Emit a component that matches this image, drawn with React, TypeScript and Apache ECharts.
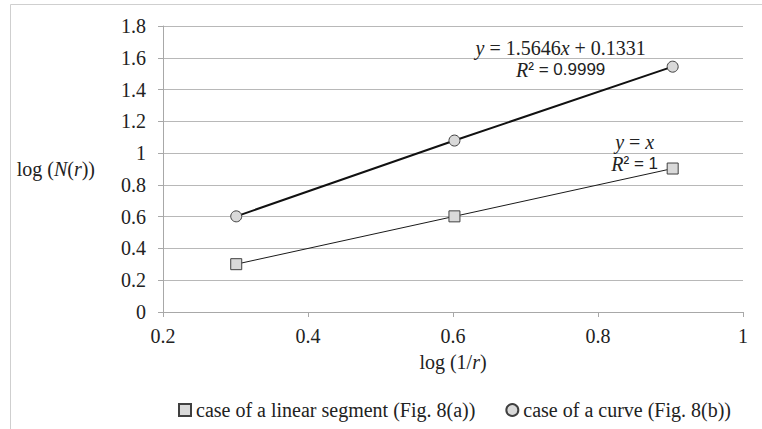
import React, { useEffect, useRef } from "react";
import * as echarts from "echarts";

const xValues = [0.301, 0.602, 0.903];
const linearY = [0.301, 0.602, 0.903];
const curveY = [0.602, 1.079, 1.544];
const seriesNames = [
  "case of a linear segment (Fig. 8(a))",
  "case of a curve (Fig. 8(b))",
];
const xTicks = { min: 0.2, max: 1, interval: 0.2 };
const yTicks = { min: 0, max: 1.8, interval: 0.2 };
const curveEq = { slope: "1.5646", intercept: "0.1331", r2: "0.9999" };
const linearEq = { r2: "1" };

const SERIF = "Liberation Serif";
const SANS = "Liberation Sans";
const TXT = "#222222";
const FS = 20;

export default function App() {
  const ref = useRef<HTMLDivElement>(null);
  useEffect(() => {
    if (!ref.current) return;
    const chart = echarts.init(ref.current, undefined, { renderer: "svg" });
    const richEq = {
      i: { fontFamily: SERIF, fontStyle: "italic", fontSize: FS, color: TXT },
      n: { fontFamily: SERIF, fontSize: FS, color: TXT },
      s: { fontFamily: SANS, fontSize: 17, color: TXT },
    };
    const richName = {
      n: { fontFamily: SERIF, fontSize: FS, color: TXT },
      i: { fontFamily: SERIF, fontSize: FS, fontStyle: "italic", color: TXT },
    };
    const lastIdx = xValues.length - 1;
    chart.setOption({
      animation: false,
      backgroundColor: "#ffffff",
      textStyle: { fontFamily: SERIF, fontSize: FS },
      graphic: [
        {
          type: "rect",
          shape: { x: 10.5, y: 4.5, width: 800, height: 500 },
          style: { fill: "none", stroke: "#cfcfcf", lineWidth: 1 },
          silent: true,
          z: -10,
        },
      ],
      grid: { left: 163, top: 26, right: 19, bottom: 117, containLabel: false },
      legend: {
        left: 178,
        top: 400,
        padding: 0,
        itemWidth: 12,
        itemHeight: 12,
        itemGap: 30,
        textStyle: { fontFamily: SERIF, fontSize: FS, color: TXT },
        data: [
          { name: seriesNames[0], icon: "rect" },
          { name: seriesNames[1], icon: "circle" },
        ],
      },
      xAxis: {
        type: "value",
        min: xTicks.min,
        max: xTicks.max,
        interval: xTicks.interval,
        name: "{n|log (1/}{i|r}{n|)}",
        nameLocation: "middle",
        nameGap: 40,
        nameTextStyle: { fontFamily: SERIF, fontSize: FS, rich: richName },
        axisLine: { show: true, lineStyle: { color: "#a8a8a8", width: 1 } },
        axisTick: { show: true, length: 5, lineStyle: { color: "#a8a8a8" } },
        splitLine: { show: false },
        axisLabel: { fontFamily: SERIF, fontSize: FS, color: TXT, margin: 14 },
      },
      yAxis: {
        type: "value",
        min: yTicks.min,
        max: yTicks.max,
        interval: yTicks.interval,
        name: "{n|log (}{i|N}{n|(}{i|r}{n|))}",
        nameLocation: "middle",
        nameRotate: 0,
        nameGap: 68,
        nameTextStyle: { fontFamily: SERIF, fontSize: FS, rich: richName },
        axisLine: { show: true, lineStyle: { color: "#a8a8a8", width: 1 } },
        axisTick: { show: true, length: 5, lineStyle: { color: "#a8a8a8" } },
        splitLine: { show: true, lineStyle: { color: "#b8b8b8", width: 1 } },
        axisLabel: { fontFamily: SERIF, fontSize: FS, color: TXT, margin: 17 },
      },
      series: [
        {
          name: seriesNames[0],
          type: "line",
          symbol: "rect",
          symbolSize: 11,
          lineStyle: { color: "#1a1a1a", width: 1 },
          itemStyle: { color: "#d9d9d9", borderColor: "#404040", borderWidth: 1 },
          data: xValues.map((x, i) =>
            i === lastIdx
              ? {
                  value: [x, linearY[i]],
                  label: {
                    show: true,
                    position: "inside",
                    offset: [-38, -16],
                    align: "center",
                    verticalAlign: "middle",
                    lineHeight: 22,
                    fontFamily: SERIF,
                    fontSize: FS,
                    formatter: `{i|y}{n| = }{i|x}\n{i|R}{s|² = ${linearEq.r2}}`,
                    rich: richEq,
                  },
                }
              : [x, linearY[i]]
          ),
          z: 3,
        },
        {
          name: seriesNames[1],
          type: "line",
          symbol: "circle",
          symbolSize: 11,
          lineStyle: { color: "#111111", width: 2 },
          itemStyle: { color: "#d9d9d9", borderColor: "#404040", borderWidth: 1 },
          data: xValues.map((x, i) =>
            i === lastIdx
              ? {
                  value: [x, curveY[i]],
                  label: {
                    show: true,
                    position: "inside",
                    offset: [-112, -8],
                    align: "center",
                    verticalAlign: "middle",
                    lineHeight: 22,
                    fontFamily: SERIF,
                    fontSize: FS,
                    formatter: `{i|y}{n| = ${curveEq.slope}}{i|x}{n| + ${curveEq.intercept}}\n{i|R}{s|² = ${curveEq.r2}}`,
                    rich: richEq,
                  },
                }
              : [x, curveY[i]]
          ),
          z: 3,
        },
      ],
    });
    return () => chart.dispose();
  }, []);
  return (
    <div
      ref={ref}
      style={{ position: "fixed", left: 0, top: 0, width: 762, height: 429 }}
    />
  );
}
